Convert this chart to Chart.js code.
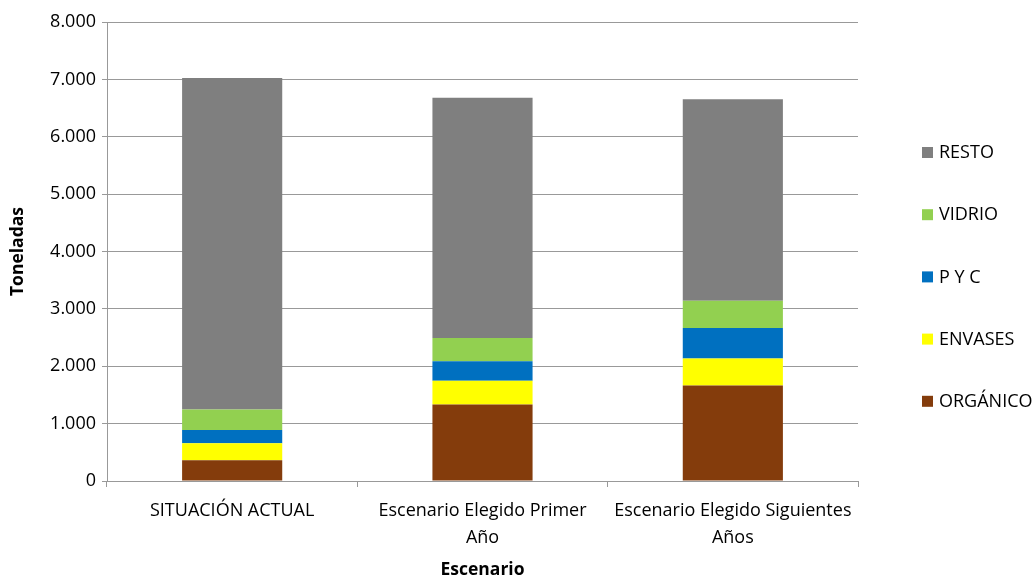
<!DOCTYPE html>
<html><head><meta charset="utf-8">
<script src="https://cdn.jsdelivr.net/npm/chart.js@4.4.1/dist/chart.umd.min.js"></script>
<style>html,body{margin:0;padding:0;background:#fff;}#wrap{width:1035px;height:576px;position:relative;}</style>
</head><body><div id="wrap"><canvas id="c" width="1035" height="576"></canvas></div>
<script>
const categories = [["SITUACIÓN ACTUAL"], ["Escenario Elegido Primer", "Año"], ["Escenario Elegido Siguientes", "Años"]];
const organico = [360, 1334, 1664];
const envases = [296, 412, 470];
const pyc = [231, 341, 534];
const vidrio = [360, 407, 475];
const resto = [5779, 4186, 3510];
const seriesNames = ["ORGÁNICO", "ENVASES", "P Y C", "VIDRIO", "RESTO"];
const seriesColors = ["#843c0c", "#ffff00", "#0070c0", "#92d050", "#7f7f7f"];
const yTickLabels = ["0", "1.000", "2.000", "3.000", "4.000", "5.000", "6.000", "7.000", "8.000"];

const FONT = "'Open Sans', 'Noto Sans', sans-serif";
const values = [organico, envases, pyc, vidrio, resto];

const legendPlugin = {
  id: 'sideLegend',
  afterDraw(chart) {
    const ctx = chart.ctx;
    const ca = chart.chartArea;
    const x0 = ca.right + 64;
    const y0 = 153, step = 62.2;
    ctx.save();
    ctx.font = "18px " + FONT;
    ctx.textBaseline = 'middle';
    const ds = chart.data.datasets.slice().reverse();
    ds.forEach((d, i) => {
      const y = y0 + i * step;
      ctx.fillStyle = d.backgroundColor;
      ctx.fillRect(x0, y - 6, 11, 11);
      ctx.fillStyle = '#000';
      ctx.fillText(d.label, x0 + 17, y);
    });
    ctx.restore();
  }
};

new Chart(document.getElementById('c'), {
  type: 'bar',
  data: {
    labels: categories,
    datasets: seriesNames.map((n, i) => ({
      label: n,
      data: values[i],
      backgroundColor: seriesColors[i],
      borderWidth: 0,
      categoryPercentage: 1.0,
      barPercentage: 0.4
    }))
  },
  options: {
    responsive: false,
    animation: false,
    layout: { padding: { top: 22, right: 177, bottom: 0, left: 0 } },
    plugins: { legend: { display: false }, tooltip: { enabled: false } },
    scales: {
      x: {
        stacked: true,
        grid: { offset: true, drawOnChartArea: false, color: '#999', tickLength: 6 },
        border: { color: '#999' },
        ticks: { color: '#000', font: { family: FONT, size: 18, lineHeight: 1.5 }, maxRotation: 0, padding: 10 },
        title: { display: true, text: 'Escenario', color: '#000', font: { family: FONT, size: 17.5, weight: 'bold', lineHeight: 1.0 }, padding: { top: 0, bottom: -3 } },
        afterFit(s) { s.height = 95; }
      },
      y: {
        stacked: true,
        min: 0, max: 8000,
        ticks: { stepSize: 1000, color: '#000', font: { family: FONT, size: 18 }, padding: 6,
          callback: (v, i) => yTickLabels[i] },
        grid: { color: '#999', tickLength: 5 },
        border: { color: '#999' },
        title: { display: true, text: 'Toneladas', color: '#000', font: { family: FONT, size: 17.5, weight: 'bold' }, padding: { top: 8, bottom: 0 } },
        afterFit(s) { s.width = 107; }
      }
    }
  },
  plugins: [legendPlugin]
});
</script></body></html>
